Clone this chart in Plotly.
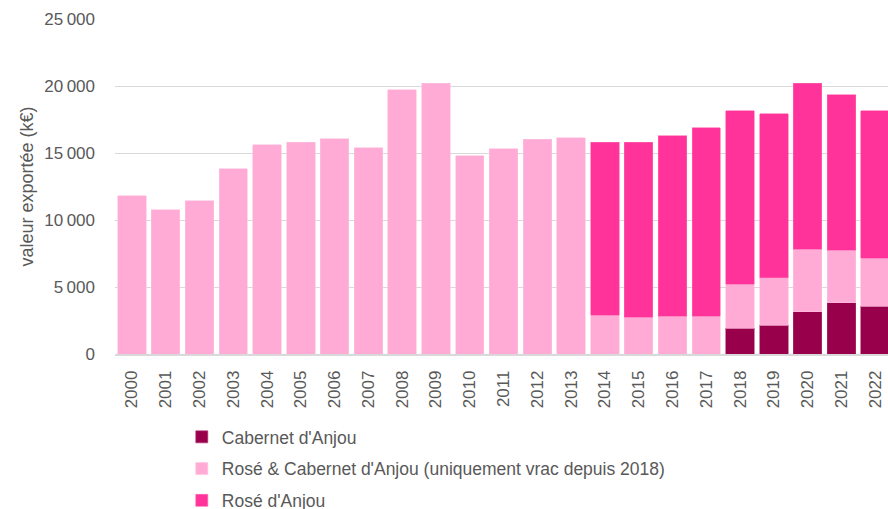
import plotly.graph_objects as go

years = [str(y) for y in range(2000, 2023)]

cabernet = [None] * 18 + [1940, 2160, 3160, 3830, 3550]
rose_cab = [11800, 10750, 11450, 13830, 15620, 15790, 16050, 15400, 19720, 20220,
            14800, 15320, 16040, 16120, 2880, 2730, 2800, 2800,
            3250, 3530, 4640, 3900, 3610]
rose_anjou = [None] * 14 + [12940, 13090, 13490, 14070, 12970, 12240, 12420, 11600, 11000]

names = ["Cabernet d'Anjou", "Rosé & Cabernet d'Anjou (uniquement vrac depuis 2018)", "Rosé d'Anjou"]
colors = ["#99004C", "#FFABD6", "#FF3399"]
edges = ["#B0336F", "#FFC2E1", "#FF66B2"]

FONT = "Liberation Sans"
GRAY = "#595959"

fig = go.Figure()
for i, (nm, vals) in enumerate(zip(names, [cabernet, rose_cab, rose_anjou])):
    fig.add_trace(go.Bar(
        x=years, y=vals, name=nm, legendgroup=f"g{i}",
        marker=dict(color=colors[i], line=dict(color=edges[i], width=0.6)),
    ))

fig.update_layout(
    width=888, height=509,
    barmode="stack", bargap=0.16,
    plot_bgcolor="white", paper_bgcolor="white",
    margin=dict(l=115, r=0, t=19, b=155, autoexpand=False),
    separators=",\u2009",
    font=dict(family=FONT, color=GRAY, size=17),
    showlegend=True,
    legend=dict(
        orientation="v", traceorder="grouped", tracegroupgap=6,
        x=0.0864, xanchor="left", y=-0.194, yanchor="top",
        font=dict(family=FONT, size=17.5, color=GRAY),
        bgcolor="rgba(0,0,0,0)",
    ),
    xaxis=dict(
        type="category", range=[-0.5, 22.38], tickangle=-90, automargin=False,
        tickfont=dict(family=FONT, size=17, color=GRAY),
        showline=True, linecolor="#D9D9D9", linewidth=1.5,
        showgrid=False, ticks="", ticklabelstandoff=8,
    ),
    yaxis=dict(
        range=[0, 25000], dtick=5000, tickformat=",", automargin=False,
        tickfont=dict(family=FONT, size=17, color=GRAY),
        showgrid=True, gridcolor="#D9D9D9", gridwidth=1,
        zeroline=False, showline=False, ticks="", ticklabelstandoff=19,
        title=dict(text="valeur exportée (k€)", font=dict(family=FONT, size=18, color=GRAY), standoff=6),
    ),
)

fig.write_html(
    "out.html",
    config={"displayModeBar": False},
    post_script="document.body.style.margin='0';document.body.style.overflow='hidden';",
)
